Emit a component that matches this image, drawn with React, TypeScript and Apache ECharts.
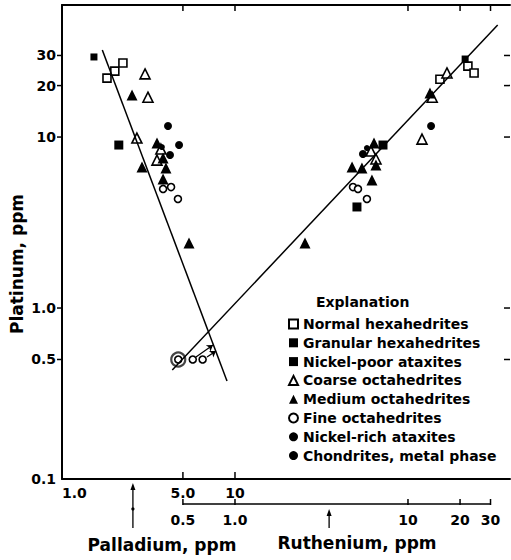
import React, { useEffect, useRef } from "react";
import * as echarts from "echarts";

// ---------- axis ranges & ticks ----------
const PT_MIN = 0.1;
const PT_MAX = 59.2;
const PD_MIN = 1;
const PD_MAX = 388.8;
const RU_MIN = 0.1;
const RU_MAX = 38.88;

const ptTickValues = [0.5, 1, 10, 20, 30];
const ptLabelValues = [0.1, 0.5, 1, 10, 20, 30];
const pdTickValues = [5, 10];
const pdLabelValues = [1, 5, 10];
const ruTickValues = [0.5, 1, 10, 20, 30];
const ruLabelValues = [0.5, 1, 10, 20, 30];
const ruTopTickValues = [10, 20, 30];
const ruAxisSpan = [0.5, 30];
const pdArrowAt = 2.57;
const ruArrowAt = 3.5;

// ---------- categories ----------
const categories = [
  "Normal hexahedrites",
  "Granular hexahedrites",
  "Nickel-poor ataxites",
  "Coarse octahedrites",
  "Medium octahedrites",
  "Fine octahedrites",
  "Nickel-rich ataxites",
  "Chondrites, metal phase",
];

// ---------- data: [Palladium ppm, Platinum ppm] ----------
const normalHexPd = [[1.82, 22.1], [2.02, 24.3], [2.25, 27.1]];
const granularHexPd = [[2.13, 8.98]];
const niPoorPd = [[1.53, 29.4]];
const coarseOctPd = [[3.02, 23.4], [3.14, 17.1], [2.71, 9.87], [3.54, 7.33], [3.73, 8.51]];
const mediumOctPd = [[2.54, 17.6], [2.9, 6.68], [3.54, 9.22], [3.84, 7.54], [3.99, 6.59], [3.84, 5.68], [5.42, 2.4]];
const fineOctPd = [[3.84, 4.97], [4.27, 5.1], [4.68, 4.34]];
const niRichPd = [[3.78, 8.74]];
const chondritesPd = [[4.1, 11.6], [4.75, 8.98], [4.21, 7.85]];

// ---------- data: [Ruthenium ppm, Platinum ppm] ----------
const normalHexRu = [[15.3, 21.8], [22.2, 26.0], [24.1, 23.7]];
const granularHexRu = [[7.17, 8.98], [5.07, 3.9]];
const niPoorRu = [[21.4, 28.6]];
const coarseOctRu = [[16.8, 23.7], [13.8, 17.1], [12.05, 9.73], [6.11, 8.28], [6.53, 7.44]];
const mediumOctRu = [[13.4, 18.1], [6.36, 9.22], [4.75, 6.68], [5.42, 6.59], [6.53, 6.86], [6.19, 5.61], [2.54, 2.4]];
const fineOctRu = [[4.81, 5.1], [5.14, 4.97], [5.79, 4.34], [0.47, 0.5], [0.57, 0.5], [0.65, 0.5]];
const niRichRu = [[5.79, 8.62]];
const chondritesRu = [[13.6, 11.6], [5.49, 7.96]];
const ringedRu = [[0.47, 0.5]];

// lower-limit arrows (Ruthenium, Platinum)
const arrowsRu = [
  [[0.595, 0.517], [0.746, 0.608]],
  [[0.689, 0.517], [0.777, 0.561]],
];

// fitted lines
const pdFitLine = [[1.71, 32.3], [8.99, 0.374]];
const ruFitLine = [[0.434, 0.434], [33.0, 45.2]];

const pdData = [normalHexPd, granularHexPd, niPoorPd, coarseOctPd, mediumOctPd, fineOctPd, niRichPd, chondritesPd];
const ruData = [normalHexRu, granularHexRu, niPoorRu, coarseOctRu, mediumOctRu, fineOctRu, niRichRu, chondritesRu];

const FONT = "DejaVu Sans";

const markerStyles = [
  { symbol: "rect", size: 8, open: true },
  { symbol: "rect", size: 9, open: false },
  { symbol: "rect", size: 7, open: false },
  { symbol: "triangle", size: 10, open: true },
  { symbol: "triangle", size: 11, open: false },
  { symbol: "circle", size: 7, open: true },
  { symbol: "circle", size: 6, open: false },
  { symbol: "circle", size: 8, open: false },
];

const fmt = (v: number) => {
  const r = Math.round(v * 1000) / 1000;
  if (r < 10) return r.toFixed(1);
  return String(Math.round(r));
};

function itemStyleFor(open: boolean) {
  return open
    ? { color: "#ffffff", borderColor: "#000000", borderWidth: 1.6, opacity: 1 }
    : { color: "#000000", borderColor: "#000000", borderWidth: 0, opacity: 1 };
}

export default function App() {
  const ref = useRef<HTMLDivElement>(null);

  useEffect(() => {
    if (!ref.current) return;
    const chart = echarts.init(ref.current, null, { renderer: "svg" });

    const axisText = { fontFamily: FONT, fontSize: 14, fontWeight: "bold", color: "#000" };

    const series: any[] = [];
    categories.forEach((name, i) => {
      const m = markerStyles[i];
      series.push({
        name,
        type: "scatter",
        xAxisIndex: 0,
        yAxisIndex: 0,
        data: pdData[i],
        symbol: m.symbol,
        symbolSize: m.size,
        itemStyle: itemStyleFor(m.open),
        z: 2,
      });
      series.push({
        name,
        type: "scatter",
        xAxisIndex: 1,
        yAxisIndex: 0,
        data: ruData[i],
        symbol: m.symbol,
        symbolSize: m.size,
        itemStyle: itemStyleFor(m.open),
        z: 2,
      });
    });
    series.push({
      name: "ring",
      type: "scatter",
      xAxisIndex: 1,
      yAxisIndex: 0,
      data: ringedRu,
      symbol: "circle",
      symbolSize: 14,
      itemStyle: { color: "#ffffff", borderColor: "#444", borderWidth: 2.2, opacity: 1 },
      z: 1,
    });
    series.push({
      name: "pdFit",
      type: "line",
      xAxisIndex: 0,
      yAxisIndex: 0,
      data: pdFitLine,
      showSymbol: false,
      symbol: "none",
      lineStyle: { color: "#000", width: 1.5 },
      z: 3,
    });
    series.push({
      name: "ruFit",
      type: "line",
      xAxisIndex: 1,
      yAxisIndex: 0,
      data: ruFitLine,
      showSymbol: false,
      symbol: "none",
      lineStyle: { color: "#000", width: 1.5 },
      z: 3,
    });
    series.push({
      name: "limits",
      type: "lines",
      coordinateSystem: "cartesian2d",
      xAxisIndex: 1,
      yAxisIndex: 0,
      data: arrowsRu.map((c) => ({ coords: c })),
      symbol: ["none", "arrow"],
      symbolSize: 6,
      lineStyle: { color: "#000", width: 1.2, opacity: 1 },
      z: 3,
    });

    const option: any = {
      animation: false,
      backgroundColor: "#ffffff",
      title: {
        text: "Explanation",
        left: 316,
        top: 295,
        padding: 0,
        textStyle: { fontFamily: FONT, fontSize: 14, fontWeight: "bold", color: "#000" },
      },
      legend: {
        data: categories,
        orient: "vertical",
        left: 288,
        top: 317,
        padding: 0,
        itemWidth: 9,
        itemHeight: 9,
        itemGap: 4.8,
        selectedMode: false,
        textStyle: { fontFamily: FONT, fontSize: 14, fontWeight: "bold", color: "#000", lineHeight: 14 },
      },
      grid: { left: 62, top: 5, right: 1, bottom: 81 },
      xAxis: [
        {
          type: "log",
          position: "bottom",
          min: PD_MIN,
          max: PD_MAX,
          splitLine: { show: false },
          axisLine: { show: true, lineStyle: { color: "#000", width: 2 } },
          axisTick: { show: false },
          axisLabel: { show: true, customValues: pdLabelValues, formatter: fmt, margin: 7, alignMinLabel: "left", ...axisText },
          minorTick: { show: false },
        },
        {
          type: "log",
          position: "bottom",
          offset: 25,
          min: RU_MIN,
          max: RU_MAX,
          splitLine: { show: false },
          axisLine: { show: false },
          axisTick: { show: false },
          axisLabel: { show: true, customValues: ruLabelValues, formatter: fmt, margin: 9, ...axisText },
          minorTick: { show: false },
        },
        {
          type: "log",
          position: "top",
          min: PD_MIN,
          max: PD_MAX,
          splitLine: { show: false },
          axisLine: { show: true, lineStyle: { color: "#000", width: 2 } },
          axisTick: { show: false },
          axisLabel: { show: false },
        },
      ],
      yAxis: [
        {
          type: "log",
          position: "left",
          min: PT_MIN,
          max: PT_MAX,
          splitLine: { show: false },
          axisLine: { show: true, lineStyle: { color: "#000", width: 2 } },
          axisTick: { show: false },
          axisLabel: { show: true, customValues: ptLabelValues, formatter: fmt, margin: 6, ...axisText },
        },
      ],
      series,
    };

    chart.setOption(option);

    const px = (axisIndex: number, v: number) => chart.convertToPixel({ xAxisIndex: axisIndex }, v) as number;
    const py = (v: number) => chart.convertToPixel({ yAxisIndex: 0 }, v) as number;
    const yBottom = py(PT_MIN);
    const yTop = py(PT_MAX);
    const xLeft = px(0, PD_MIN);
    const xRight = px(0, PD_MAX);
    const yRu = yBottom + 25;
    const xPdArrow = px(0, pdArrowAt);
    const xRuArrow = px(1, ruArrowAt);
    const titleStyle = { fontFamily: FONT, fontSize: 17, fontWeight: "bold", fill: "#000" };
    const tickStyle = { stroke: "#000", lineWidth: 1.5 };

    const ticks: any[] = [];
    ptTickValues.forEach((v) => {
      const y = py(v);
      ticks.push({ type: "line", shape: { x1: xLeft - 5, y1: y, x2: xLeft, y2: y }, style: tickStyle });
      ticks.push({ type: "line", shape: { x1: xRight - 6, y1: y, x2: xRight, y2: y }, style: tickStyle });
    });
    pdTickValues.forEach((v) => {
      const x = px(0, v);
      ticks.push({ type: "line", shape: { x1: x, y1: yTop, x2: x, y2: yTop + 6 }, style: tickStyle });
      ticks.push({ type: "line", shape: { x1: x, y1: yBottom - 7, x2: x, y2: yBottom }, style: tickStyle });
    });
    ruTopTickValues.forEach((v) => {
      const x = px(1, v);
      ticks.push({ type: "line", shape: { x1: x, y1: yTop, x2: x, y2: yTop + 6 }, style: tickStyle });
    });
    ruTickValues.forEach((v) => {
      const x = px(1, v);
      ticks.push({ type: "line", shape: { x1: x, y1: yRu - 5, x2: x, y2: yRu + 1 }, style: tickStyle });
    });

    chart.setOption({
      graphic: [
        ...ticks,
        {
          type: "line",
          shape: { x1: px(1, ruAxisSpan[0]), y1: yRu, x2: px(1, ruAxisSpan[1]), y2: yRu },
          style: { stroke: "#000", lineWidth: 1.5 },
        },
        {
          type: "line",
          shape: { x1: xPdArrow, y1: 528, x2: xPdArrow, y2: 488 },
          style: { stroke: "#000", lineWidth: 1.3 },
        },
        {
          type: "polygon",
          shape: { points: [[xPdArrow - 2.5, 490], [xPdArrow + 2.5, 490], [xPdArrow, 483]] },
          style: { fill: "#000" },
        },
        { type: "circle", shape: { cx: xPdArrow, cy: 509, r: 1.6 }, style: { fill: "#000" } },
        {
          type: "line",
          shape: { x1: xRuArrow, y1: 528, x2: xRuArrow, y2: 514 },
          style: { stroke: "#000", lineWidth: 1.3 },
        },
        {
          type: "polygon",
          shape: { points: [[xRuArrow - 2.5, 516], [xRuArrow + 2.5, 516], [xRuArrow, 509]] },
          style: { fill: "#000" },
        },
        {
          type: "text",
          x: 17,
          y: 264,
          rotation: Math.PI / 2,
          style: { text: "Platinum, ppm", align: "center", verticalAlign: "middle", ...titleStyle },
        },
        {
          type: "text",
          x: 162,
          y: 545,
          style: { text: "Palladium, ppm", align: "center", verticalAlign: "middle", ...titleStyle },
        },
        {
          type: "text",
          x: 357,
          y: 543,
          style: { text: "Ruthenium, ppm", align: "center", verticalAlign: "middle", ...titleStyle },
        },
      ],
    });

    return () => chart.dispose();
  }, []);

  return (
    <div
      ref={ref}
      style={{ position: "fixed", left: 0, top: 0, width: 511, height: 560, background: "#fff" }}
    />
  );
}
